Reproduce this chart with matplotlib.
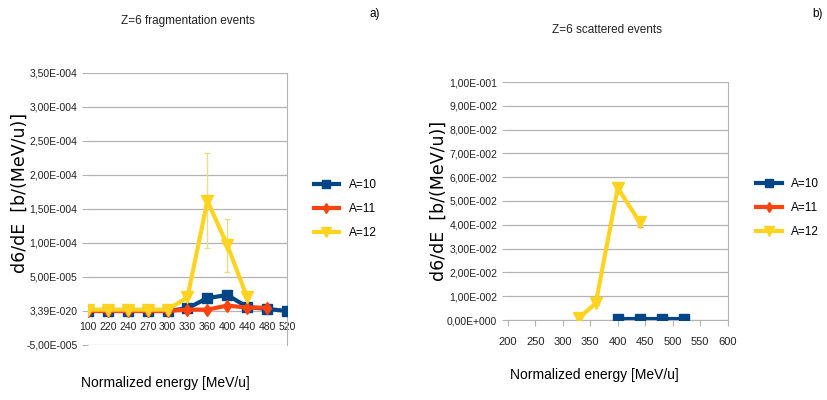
import numpy as np
import matplotlib.pyplot as plt
import matplotlib.font_manager as fm
from matplotlib.lines import Line2D

names = set(f.name for f in fm.fontManager.ttflist)
narrow = 'Liberation Sans Narrow' if 'Liberation Sans Narrow' in names else 'Liberation Sans'

# left chart: fragmentation events (category axis)
cats = ['100', '220', '240', '270', '300', '330', '360', '400', '440', '480', '520']
a10_frag = [0, 0, 0, 0, 0, 4e-6, 1.9e-5, 2.35e-5, 6e-6, 3e-6, 0]
a11_frag = [0, 0, 0, 0, 0, 2e-6, 2e-6, 8e-6, 5e-6, 5e-6]
a12_frag = [2e-6, 2e-6, 2e-6, 2e-6, 2e-6, 2e-5, 1.62e-4, 9.7e-5, 2e-5]
a12_frag_err = [0, 0, 0, 0, 0, 0, 7e-5, 3.9e-5, 0]
left_yticks = [-5e-5, 0, 5e-5, 1e-4, 1.5e-4, 2e-4, 2.5e-4, 3e-4, 3.5e-4]
left_ylabels = ['-5,00E-005', '3,39E-020', '5,00E-005', '1,00E-004', '1,50E-004',
                '2,00E-004', '2,50E-004', '3,00E-004', '3,50E-004']

# right chart: scattered events
e10 = [400, 440, 480, 520]
a10_scat = [3e-4, 3e-4, 3e-4, 3e-4]
e11 = [440, 480, 520]
a11_scat = [1e-3, 3e-4, 0]
a11_scat_err = [5e-4, 0, 0]
e12 = [330, 360, 400, 440]
a12_scat = [1e-3, 7e-3, 5.55e-2, 4.1e-2]
a12_scat_err = [0, 8e-4, 1.8e-3, 1.8e-3]
right_yticks = [i * 0.01 for i in range(11)]
right_ylabels = ['0,00E+000'] + ['%d,00E-002' % i for i in range(1, 10)] + ['1,00E-001']

blue = '#004586'
red = '#ff420e'
yellow = '#ffd320'
grid_c = '#b3b3b3'
txt_c = '#222222'

fig = plt.figure(figsize=(8.27, 4.0), dpi=100)

def style(ax, xsize):
    for s in ['top', 'left']:
        ax.spines[s].set_visible(False)
    ax.spines['right'].set_color(grid_c)
    ax.spines['bottom'].set_color(grid_c)
    ax.yaxis.grid(True, color=grid_c, lw=0.9)
    ax.set_axisbelow(True)
    ax.tick_params(axis='both', colors=grid_c, labelcolor=txt_c, labelsize=7.5, length=4)
    ax.tick_params(axis='x', labelsize=xsize)
    for lab in ax.get_xticklabels() + ax.get_yticklabels():
        lab.set_fontfamily(narrow)

handles = [Line2D([], [], color=blue, lw=3, marker='s', ms=6),
           Line2D([], [], color=red, lw=3, marker='d', ms=5),
           Line2D([], [], color=yellow, lw=3, marker='v', ms=7)]
labels = ['A=10', 'A=11', 'A=12']

# ---- left
ax1 = fig.add_axes([0.1064, 0.1375, 0.2406, 0.68])
x = np.arange(len(cats))
ax1.plot(x[:len(a10_frag)], a10_frag, color=blue, lw=3, marker='s', ms=7, zorder=3)
ax1.plot(x[:len(a11_frag)], a11_frag, color=red, lw=3, marker='d', ms=6, zorder=3)
ax1.errorbar(x[:len(a12_frag)], a12_frag, yerr=a12_frag_err, color=yellow, lw=3, marker='v', ms=8,
             ecolor='#e6e08a', elinewidth=1, capsize=2.5, zorder=4)
ax1.set_xlim(0, len(cats) - 1)
ax1.set_ylim(-5e-5, 3.5e-4)
ax1.set_xticks(x)
ax1.set_xticklabels(cats)
ax1.set_yticks(left_yticks)
ax1.set_yticklabels(left_ylabels)
ax1.spines['bottom'].set_position(('data', 0))
style(ax1, 7.5)
ax1.spines['bottom'].set_visible(False)
ax1.tick_params(axis='x', length=0, pad=8)
ax1.set_ylabel('d6/dE  [b/(MeV/u)]', fontsize=12.5)
ax1.yaxis.set_label_coords(-0.3, 0.56)
ax1.set_xlabel('Normalized energy [MeV/u]', fontsize=10, fontfamily=narrow)
ax1.xaxis.set_label_coords(0.387, -0.115)
ax1.set_title('Z=6 fragmentation events', fontsize=8.5, fontfamily=narrow, pad=35, color=txt_c)
ax1.legend(handles, labels, loc='center left', bbox_to_anchor=(1.08, 0.5), frameon=False,
           prop={'family': narrow, 'size': 8.5}, handlelength=2.2, labelspacing=1.0)
fig.text(0.447, 0.965, 'a)', fontsize=8.5, fontfamily=narrow, ha='left', va='center')

# ---- right
ax2 = fig.add_axes([0.614, 0.2, 0.266, 0.595])
ax2.plot(e10, a10_scat, color=blue, lw=3, marker='s', ms=7, zorder=4)
ax2.errorbar(e11, a11_scat, yerr=a11_scat_err, color=red, lw=1, marker='d', ms=2,
             ecolor=red, elinewidth=0.8, capsize=1.5, zorder=3)
ax2.errorbar(e12, a12_scat, yerr=a12_scat_err, color=yellow, lw=3, marker='v', ms=8,
             ecolor='#c8b84a', elinewidth=1, capsize=2.5, zorder=3)
ax2.set_xlim(200, 600)
ax2.set_ylim(0, 0.1)
ax2.set_xticks(range(200, 601, 50))
ax2.set_yticks(right_yticks)
ax2.set_yticklabels(right_ylabels)
style(ax2, 8)
ax2.tick_params(axis='x', pad=8)
ax2.set_ylabel('d6/dE  [b/(MeV/u)]', fontsize=12.5)
ax2.yaxis.set_label_coords(-0.275, 0.5)
ax2.set_xlabel('Normalized energy [MeV/u]', fontsize=10, fontfamily=narrow)
ax2.xaxis.set_label_coords(0.395, -0.2)
ax2.set_title('Z=6 scattered events', fontsize=8.5, fontfamily=narrow, pad=35, color=txt_c)
ax2.title.set_position((0.45, 1.0))
ax2.legend(handles, labels, loc='center left', bbox_to_anchor=(1.08, 0.47), frameon=False,
           prop={'family': narrow, 'size': 8.5}, handlelength=2.2, labelspacing=1.0)
fig.text(0.982, 0.965, 'b)', fontsize=8.5, fontfamily=narrow, ha='left', va='center')

fig.savefig('out.png', dpi=100)
